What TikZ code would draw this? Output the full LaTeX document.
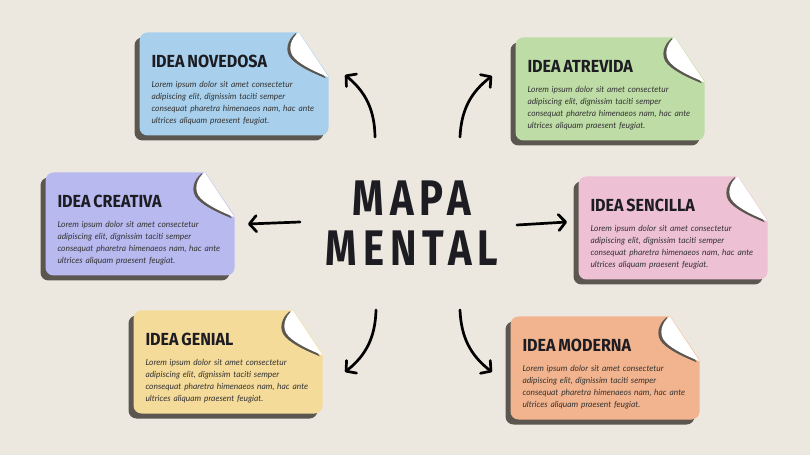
\documentclass[tikz,border=0pt]{standalone}
\usepackage{fontspec}
\setmainfont{Fira Sans}
\newfontfamily\titlefont[FakeStretch=0.8,LetterSpace=12]{Fira Sans}
\newfontfamily\headfont[FakeStretch=0.92]{Fira Sans}
\newfontfamily\bodyfont{Lato}
\usetikzlibrary{arrows.meta,shadows}

\definecolor{paper}{HTML}{EDE8DF}
\definecolor{boxshadow}{HTML}{5B5650}
\definecolor{ink}{HTML}{1C1C22}
\definecolor{ideablue}{HTML}{A8D0EC}
\definecolor{ideagreen}{HTML}{BEDCA5}
\definecolor{idealilac}{HTML}{B8B9EE}
\definecolor{ideapink}{HTML}{EDC0D4}
\definecolor{ideayellow}{HTML}{F5DB9A}
\definecolor{ideaorange}{HTML}{F2B48E}

\newcommand{\heading}[1]{{\headfont\upshape\bfseries\fontsize{17.5}{17}\selectfont\color{ink}\rule{0pt}{25pt}#1\par}\vspace{8pt}}
\newcommand{\loremtext}{Lorem ipsum dolor sit amet consectetur\\
adipiscing elit, dignissim taciti semper\\
consequat pharetra himenaeos nam, hac ante\\
ultrices aliquam praesent feugiat.}
% cut corner and curled paper at the top right of a box
\newcommand{\fold}[1]{%
    \begin{scope}[shift={(#1.north east)}]
        \fill[paper] (-30,1) -- (1,1) -- (1,-45) -- cycle;
        \fill[boxshadow, shift={(-3,-1)}] (-30,0) -- (0,-45) .. controls (-12,-40) and (-26,-34) .. (-34,-26) .. controls (-42,-18) and (-38,-6) .. cycle;
        \fill[white] (-30,0) -- (0,-45) .. controls (-12,-40) and (-26,-34) .. (-34,-26) .. controls (-42,-18) and (-38,-6) .. cycle;
    \end{scope}}

\begin{document}
\begin{tikzpicture}[x=1pt,y=1pt,
    idea/.style={rectangle, rounded corners=8pt, minimum width=189pt, minimum height=103pt,
        text width=165pt, inner xsep=12pt, align=left, text=black!80,
        font=\bodyfont\itshape\fontsize{8.4}{12}\selectfont,
        drop shadow={shadow xshift=-5pt, shadow yshift=-5pt, opacity=1, fill=boxshadow}},
    arrow/.style={line width=2.7pt, line cap=round, -{Straight Barb[round, length=7pt, width=16pt]}}
    ]

    \fill[paper] (0,0) rectangle (810,455);

    \node[font=\titlefont\bfseries\fontsize{50}{50}\selectfont, align=center, text=ink] (title) at (412,232) {MAPA\\MENTAL};

    \node[idea, fill=ideablue] (novedosa) at (234,371) {\heading{IDEA NOVEDOSA}\loremtext};
    \node[idea, fill=ideagreen] (atrevida) at (610,366) {\heading{IDEA ATREVIDA}\loremtext};
    \node[idea, fill=idealilac] (creativa) at (140,231) {\heading{IDEA CREATIVA}\loremtext};
    \node[idea, fill=ideapink] (sencilla) at (673,227) {\heading{IDEA SENCILLA}\loremtext};
    \node[idea, fill=ideayellow] (genial) at (228,93) {\heading{IDEA GENIAL}\loremtext};
    \node[idea, fill=ideaorange] (moderna) at (605,87) {\heading{IDEA MODERNA}\loremtext};

    \fold{novedosa}
    \fold{atrevida}
    \fold{creativa}
    \fold{sencilla}
    \fold{genial}
    \fold{moderna}

    \coordinate (nwA) at (375,318);
    \coordinate (nwB) at (345,380);
    \coordinate (neA) at (460,318);
    \coordinate (neB) at (492,379);
    \coordinate (wA) at (300,233);
    \coordinate (wB) at (248,231);
    \coordinate (eA) at (517,230);
    \coordinate (eB) at (567,233);
    \coordinate (swA) at (376,145);
    \coordinate (swB) at (345,83);
    \coordinate (seA) at (460,145);
    \coordinate (seB) at (492,83);

    \draw[arrow] (nwA) to[bend right=25] (nwB);
    \draw[arrow] (neA) to[bend left=25] (neB);
    \draw[arrow] (wA) -- (wB);
    \draw[arrow] (eA) -- (eB);
    \draw[arrow] (swA) to[bend left=25] (swB);
    \draw[arrow] (seA) to[bend right=25] (seB);

\end{tikzpicture}
\end{document}
